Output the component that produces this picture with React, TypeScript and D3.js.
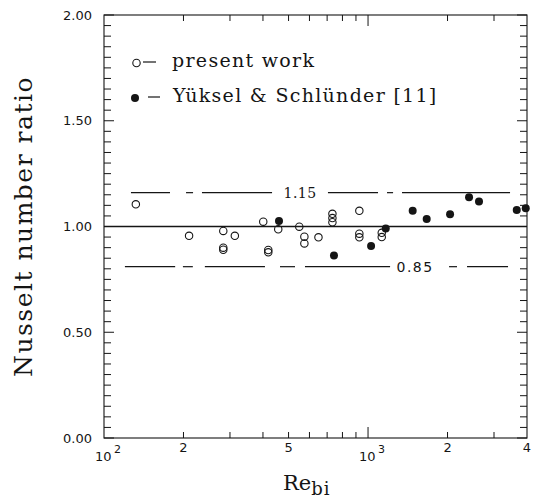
import React from "react";
import * as d3 from "d3";

// ---- data ----
const presentRe = [132, 210, 283, 283, 283, 313, 401, 419, 419, 457, 549, 574, 574, 649, 733, 733, 733, 927, 927, 927, 1127, 1127];
const presentNu = [1.105, 0.956, 0.979, 0.9, 0.89, 0.956, 1.023, 0.889, 0.878, 0.987, 0.999, 0.952, 0.92, 0.949, 1.06, 1.04, 1.02, 1.074, 0.966, 0.949, 0.97, 0.95];
const yukselRe = [460, 743, 1027, 1167, 1476, 1668, 2045, 2413, 2632, 3658, 3956];
const yukselNu = [1.026, 0.863, 0.908, 0.991, 1.075, 1.036, 1.058, 1.138, 1.118, 1.078, 1.086];

const legendLabels = ["present work", "Yüksel & Schlünder [11]"];

const yTickLabels = ["0.00", "0.50", "1.00", "1.50", "2.00"];
const yTickValues = [0, 0.5, 1, 1.5, 2];
const xMinorTicks = [200, 300, 400, 500, 600, 700, 800, 900, 2000, 3000];
const xMajorTicks = [1000];
const xDigitLabels = [
  { v: 200, t: "2" },
  { v: 500, t: "5" },
  { v: 2000, t: "2" },
  { v: 4000, t: "4" },
];
const xPowerLabels = [
  { v: 100, e: "2" },
  { v: 1000, e: "3" },
];

// reference bands (segments in Re units, gaps hold labels)
const upperValue = 1.16;
const upperLabel = "1.15";
const upperLabelRe = 553;
const upperSegs: [number, number][] = [[126.5, 177.8], [204.5, 217.4], [235, 433], [705, 1091], [1180, 1244], [1345, 3450]];
const lowerValue = 0.81;
const lowerLabel = "0.85";
const lowerLabelRe = 1507;
const lowerSegs: [number, number][] = [[120, 186], [199, 217], [241, 407], [464, 529], [577, 1212], [2027, 2173], [2371, 3390]];

export default function App() {
  const W = 534, H = 499;
  const L = 104, R = 527, T = 15, B = 438;
  const x = d3.scaleLog().domain([100, 4000]).range([L, R]);
  const y = d3.scaleLinear().domain([0, 2]).range([B, T]);
  const ink = "#151515";
  const yMinor = d3.range(0, 41).map((i) => i * 0.05);

  return (
    <svg width={W} height={H} style={{ position: "absolute", left: 0, top: 0, background: "#fff" }}>
      <rect x={0} y={0} width={W} height={H} fill="#fff" />
      {/* frame */}
      <rect x={L} y={T} width={R - L} height={B - T} fill="none" stroke={ink} strokeWidth={1.1} />
      {/* y ticks both sides */}
      {yMinor.map((v, i) => {
        const major = i % 10 === 0;
        const len = major ? 10 : 7;
        return (
          <g key={"yt" + i}>
            <line x1={L} x2={L + len} y1={y(v)} y2={y(v)} stroke={ink} strokeWidth={1} />
            <line x1={R} x2={R - len} y1={y(v)} y2={y(v)} stroke={ink} strokeWidth={1} />
          </g>
        );
      })}
      {/* x ticks bottom/top */}
      {xMinorTicks.map((v) => (
        <g key={"xm" + v}>
          <line x1={x(v)} x2={x(v)} y1={B} y2={B - 6} stroke={ink} strokeWidth={1} />
          <line x1={x(v)} x2={x(v)} y1={T} y2={T + 6} stroke={ink} strokeWidth={1} />
        </g>
      ))}
      {xMajorTicks.map((v) => (
        <g key={"xM" + v}>
          <line x1={x(v)} x2={x(v)} y1={B} y2={B - 11} stroke={ink} strokeWidth={1} />
          <line x1={x(v)} x2={x(v)} y1={T} y2={T + 11} stroke={ink} strokeWidth={1} />
        </g>
      ))}
      {/* y tick labels */}
      {yTickValues.map((v, i) => (
        <text key={"yl" + i} x={92} y={y(v)} dy="0.36em" textAnchor="end" fontFamily="DejaVu Sans" fontSize={13} fill={ink}>
          {yTickLabels[i]}
        </text>
      ))}
      {/* x tick labels */}
      {xDigitLabels.map((d, i) => (
        <text key={"xd" + i} x={x(d.v)} y={452} textAnchor="middle" fontFamily="DejaVu Sans" fontSize={13} fill={ink}>
          {d.t}
        </text>
      ))}
      {xPowerLabels.map((d, i) => (
        <g key={"xp" + i}>
          <text x={x(d.v) - 9} y={461} fontFamily="DejaVu Sans" fontSize={13} fill={ink}>10</text>
          <text x={x(d.v) + 10} y={453} fontFamily="DejaVu Sans" fontSize={11} fill={ink}>{d.e}</text>
        </g>
      ))}
      {/* axis titles */}
      <text x={283} y={490} fontFamily="DejaVu Serif" fontSize={21} fill={ink}>
        Re
        <tspan fontSize={18} dy={5} letterSpacing={1}>bi</tspan>
      </text>
      <text
        transform={`translate(32, ${(T + B) / 2}) rotate(-90)`}
        textAnchor="middle"
        fontFamily="DejaVu Serif"
        fontSize={25}
        letterSpacing={1.5}
        fill={ink}
      >
        Nusselt number ratio
      </text>
      {/* reference lines */}
      <line x1={L} x2={R} y1={y(1)} y2={y(1)} stroke={ink} strokeWidth={1.3} />
      {upperSegs.map((s, i) => (
        <line key={"us" + i} x1={x(s[0])} x2={x(s[1])} y1={y(upperValue)} y2={y(upperValue)} stroke={ink} strokeWidth={1.2} />
      ))}
      {lowerSegs.map((s, i) => (
        <line key={"ls" + i} x1={x(s[0])} x2={x(s[1])} y1={y(lowerValue)} y2={y(lowerValue)} stroke={ink} strokeWidth={1.2} />
      ))}
      <text x={x(upperLabelRe)} y={y(upperValue)} dy="0.36em" textAnchor="middle" fontFamily="DejaVu Serif" fontSize={14} letterSpacing={0.5} fill={ink}>
        {upperLabel}
      </text>
      <text x={x(lowerLabelRe)} y={y(lowerValue)} dy="0.36em" textAnchor="middle" fontFamily="DejaVu Sans" fontSize={14} letterSpacing={1.5} fill={ink}>
        {lowerLabel}
      </text>
      {/* data */}
      {presentRe.map((re, i) => (
        <circle key={"p" + i} cx={x(re)} cy={y(presentNu[i])} r={3.7} fill="none" stroke={ink} strokeWidth={1.1} />
      ))}
      {yukselRe.map((re, i) => (
        <circle key={"k" + i} cx={x(re)} cy={y(yukselNu[i])} r={4} fill={ink} />
      ))}
      {/* legend */}
      <circle cx={136.5} cy={63} r={3.7} fill="none" stroke={ink} strokeWidth={1.1} />
      <line x1={143} x2={156} y1={62} y2={62} stroke={ink} strokeWidth={1.2} />
      <text x={172} y={67} fontFamily="DejaVu Serif" fontSize={19} letterSpacing={1.3} fill={ink}>{legendLabels[0]}</text>
      <circle cx={135} cy={98} r={4} fill={ink} />
      <line x1={148} x2={160} y1={97} y2={97} stroke={ink} strokeWidth={1.2} />
      <text x={173} y={102} fontFamily="DejaVu Serif" fontSize={19} letterSpacing={1.3} fill={ink}>{legendLabels[1]}</text>
    </svg>
  );
}
